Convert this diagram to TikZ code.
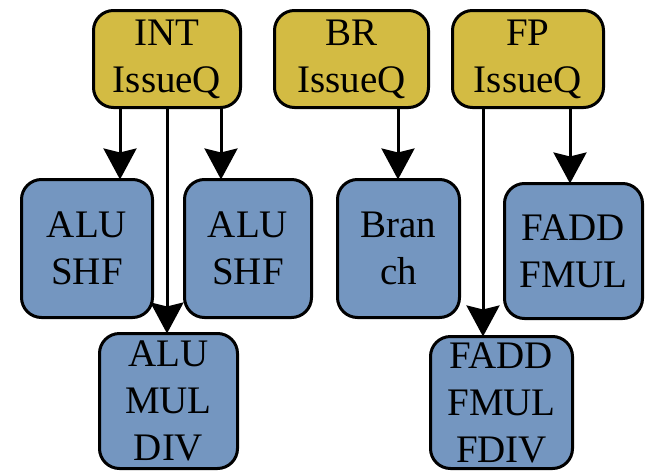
\documentclass[tikz,border=0pt]{standalone}
\usepackage{fontspec}
\setmainfont{Liberation Serif}
\usetikzlibrary{arrows.meta}

\definecolor{queuegold}{RGB}{211,187,67}
\definecolor{unitblue}{RGB}{116,150,192}

\tikzset{
  box/.style={draw=black, line width=3pt, rounded corners=20pt,
    align=center, inner sep=0pt, outer sep=0pt,
    font=\fontsize{39}{47}\selectfont},
  queue/.style={box, fill=queuegold},
  unit/.style={box, fill=unitblue},
  feed/.style={line width=3pt,
    -{Stealth[length=31pt, width=33pt, inset=4pt]}},
}

\begin{document}
\begin{tikzpicture}[x=1pt, y=-1pt]
  \useasboundingbox (0,0) rectangle (646,472);

  % issue queues
  \node[queue, minimum width=147pt, minimum height=97pt] (intq) at (167,59)   {INT\\IssueQ};
  \node[queue, minimum width=154pt, minimum height=97pt] (brq)  at (351.5,59) {BR\\IssueQ};
  \node[queue, minimum width=151pt, minimum height=97pt] (fpq)  at (528,59)   {FP\\IssueQ};

  % execution units
  \node[unit, minimum width=131pt, minimum height=138pt] (alua) at (87,248.5)    {ALU\\SHF};
  \node[unit, minimum width=127pt, minimum height=138pt] (alub) at (248,248.5)   {ALU\\SHF};
  \node[unit, minimum width=138pt, minimum height=135pt] (mdiv) at (168.5,401)   {ALU\\MUL\\DIV};
  \node[unit, minimum width=122pt, minimum height=138pt] (bru)  at (398.5,248.5) {Bran\\ch};
  \node[unit, minimum width=138pt, minimum height=135pt] (fadd) at (573.5,251)   {FADD\\FMUL};
  \node[unit, minimum width=142pt, minimum height=132pt] (fdiv) at (501.5,402.5) {FADD\\FMUL\\FDIV};

  % dispatch paths
  \draw[feed] (intq.south -| 120,0) -- (alua.north -| 120,0);
  \draw[feed] (intq.south -| 167,0) -- (mdiv.north -| 167,0);
  \draw[feed] (intq.south -| 221,0) -- (alub.north -| 221,0);
  \draw[feed] (brq.south -| 398,0)  -- (bru.north -| 398,0);
  \draw[feed] (fpq.south -| 483,0)  -- (fdiv.north -| 483,0);
  \draw[feed] (fpq.south -| 570,0)  -- (fadd.north -| 570,0);
\end{tikzpicture}
\end{document}
